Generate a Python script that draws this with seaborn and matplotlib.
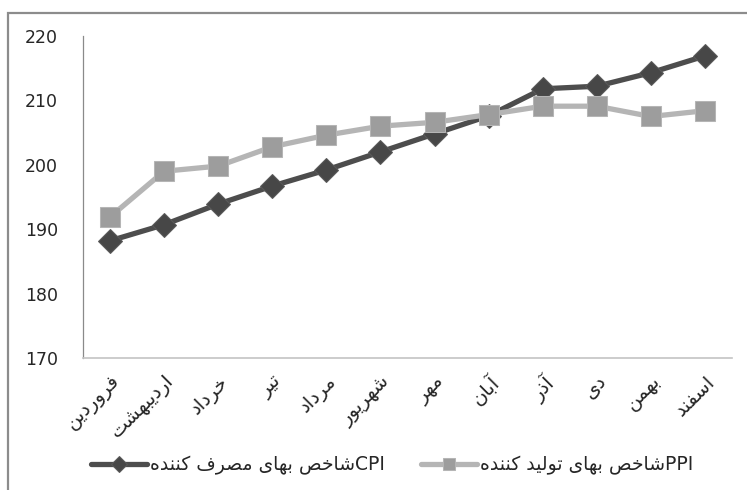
import numpy as np
import pandas as pd
import matplotlib.pyplot as plt
import matplotlib.transforms as mtransforms
import seaborn as sns
from matplotlib.patches import Rectangle

# داده‌ها
months = ['فروردین', 'اردیبهشت', 'خرداد', 'تیر', 'مرداد', 'شهریور',
          'مهر', 'آبان', 'آذر', 'دی', 'بهمن', 'اسفند']
cpi = [188.2, 190.7, 193.9, 196.7, 199.2, 202.0, 204.8, 207.6, 211.8, 212.2, 214.3, 216.9]
ppi = [191.9, 199.0, 199.8, 202.8, 204.6, 206.0, 206.6, 207.8, 209.1, 209.1, 207.5, 208.4]
cpi_label = 'CPIشاخص بهای مصرف کننده'
ppi_label = 'PPIشاخص بهای تولید کننده'
y_ticks = [170, 180, 190, 200, 210, 220]

# شکل‌دهی ساده حروف فارسی (matplotlib خودش اتصال حروف را انجام نمی‌دهد)
FORMS = {
    'ا': ('\uFE8D', '\uFE8E', None, None),
    'آ': ('\uFE81', '\uFE82', None, None),
    'ب': ('\uFE8F', '\uFE90', '\uFE91', '\uFE92'),
    'ت': ('\uFE95', '\uFE96', '\uFE97', '\uFE98'),
    'خ': ('\uFEA5', '\uFEA6', '\uFEA7', '\uFEA8'),
    'د': ('\uFEA9', '\uFEAA', None, None),
    'ذ': ('\uFEAB', '\uFEAC', None, None),
    'ر': ('\uFEAD', '\uFEAE', None, None),
    'ز': ('\uFEAF', '\uFEB0', None, None),
    'س': ('\uFEB1', '\uFEB2', '\uFEB3', '\uFEB4'),
    'ش': ('\uFEB5', '\uFEB6', '\uFEB7', '\uFEB8'),
    'ص': ('\uFEB9', '\uFEBA', '\uFEBB', '\uFEBC'),
    'ف': ('\uFED1', '\uFED2', '\uFED3', '\uFED4'),
    'ل': ('\uFEDD', '\uFEDE', '\uFEDF', '\uFEE0'),
    'م': ('\uFEE1', '\uFEE2', '\uFEE3', '\uFEE4'),
    'ن': ('\uFEE5', '\uFEE6', '\uFEE7', '\uFEE8'),
    'ه': ('\uFEE9', '\uFEEA', '\uFEEB', '\uFEEC'),
    'و': ('\uFEED', '\uFEEE', None, None),
    'ی': ('\uFBFC', '\uFBFD', '\uFBFE', '\uFBFF'),
    'ک': ('\uFB8E', '\uFB8F', '\uFB90', '\uFB91'),
}


def shape_run(s):
    out = []
    for i, ch in enumerate(s):
        if ch not in FORMS:
            out.append(ch)
            continue
        prev = s[i - 1] if i > 0 else ''
        nxt = s[i + 1] if i + 1 < len(s) else ''
        jp = prev in FORMS and FORMS[prev][2] is not None
        jn = FORMS[ch][2] is not None and nxt in FORMS
        iso, fin, ini, med = FORMS[ch]
        if jp and jn:
            out.append(med)
        elif jp:
            out.append(fin)
        elif jn:
            out.append(ini)
        else:
            out.append(iso)
    return ''.join(out)


def fa(s):
    # تقسیم به بخش‌های لاتین و فارسی و چیدمان راست به چپ
    runs, cur, cur_latin = [], '', None
    for ch in s:
        latin = ch.isascii() and ch != ' '
        if cur_latin is None or latin == cur_latin or ch == ' ':
            cur += ch
            if cur_latin is None and ch != ' ':
                cur_latin = latin
        else:
            runs.append((cur, cur_latin))
            cur, cur_latin = ch, latin
    runs.append((cur, cur_latin))
    vis = []
    for text, latin in reversed(runs):
        vis.append(text if latin else shape_run(text)[::-1])
    return ''.join(vis)


df = pd.DataFrame({'pos': np.arange(len(months)), 'cpi': cpi, 'ppi': ppi})

sns.set_style('white')
plt.rcParams['font.family'] = ['DejaVu Sans']

fig = plt.figure(figsize=(7.47, 4.9), dpi=100)
ax = fig.add_axes([83 / 747, 1 - 358 / 490, (732 - 83) / 747, (358 - 36) / 490])

sns.lineplot(data=df, x='pos', y='cpi', ax=ax, sort=False, color='#4d4d4d', lw=3.8,
             marker='D', markersize=12, markerfacecolor='#474747', markeredgecolor='#5a5a5a',
             label=fa(cpi_label), zorder=3)
sns.lineplot(data=df, x='pos', y='ppi', ax=ax, sort=False, color='#b5b5b5', lw=3.8,
             marker='s', markersize=14, markerfacecolor='#9d9d9d', markeredgecolor='#b5b5b5',
             label=fa(ppi_label), zorder=4)

ax.set_xlim(-0.5, len(months) - 0.5)
ax.set_ylim(170, 220)
ax.set_yticks(y_ticks)
ax.set_xticks(df['pos'])
ax.set_xticklabels([fa(m) for m in months], rotation=45, ha='right',
                   rotation_mode='anchor', fontsize=14)
shift = mtransforms.ScaledTranslation(-11 / 100, 0, fig.dpi_scale_trans)
for lab in ax.get_xticklabels():
    lab.set_transform(lab.get_transform() + shift)
ax.tick_params(axis='y', length=0, pad=18, labelsize=12.5)
ax.tick_params(axis='x', length=0, pad=10)
ax.set_xlabel('')
ax.set_ylabel('')
for side in ['top', 'right']:
    ax.spines[side].set_visible(False)
ax.spines['left'].set_color('#8a8a8a')
ax.spines['left'].set_linewidth(0.9)
ax.spines['bottom'].set_color('#c4c4c4')
ax.spines['bottom'].set_linewidth(1.2)

ax.legend(loc='center', bbox_to_anchor=(392 / 747, 1 - 465 / 490),
          bbox_transform=fig.transFigure, ncol=2, frameon=False, fontsize=13.5,
          handlelength=3.0, handletextpad=0.15, columnspacing=1.9, markerscale=0.65)

# قاب دور نمودار
fig.patches.append(Rectangle((8 / 747, -0.2), 1.2, 1.2 - 13 / 490, transform=fig.transFigure,
                             fill=False, edgecolor='#8c8c8c', lw=1.6))

plt.savefig('out.png', dpi=100)
